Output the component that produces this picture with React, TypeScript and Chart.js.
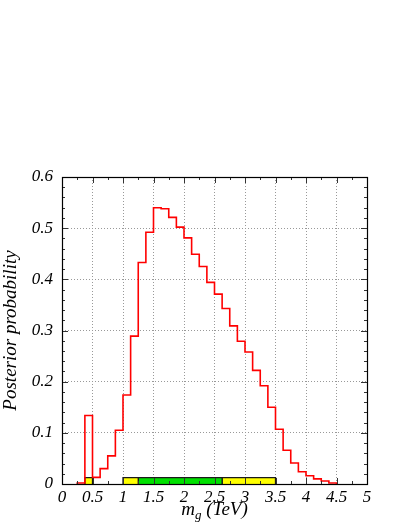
import React, { useEffect, useRef } from 'react';
import { Chart, registerables } from 'chart.js';

Chart.register(...registerables);

// Histogram: posterior probability per m_g bin (TeV)
const binStart = 0.25;
const binWidth = 0.125;
const posterior = [
  0.002, 0.134, 0.013, 0.030, 0.055, 0.105, 0.174, 0.289,
  0.433, 0.492, 0.540, 0.538, 0.521, 0.502, 0.481, 0.449,
  0.425, 0.394, 0.371, 0.343, 0.309, 0.279, 0.258, 0.222,
  0.192, 0.150, 0.107, 0.066, 0.041, 0.024, 0.016, 0.010,
  0.006, 0.002,
];

// Credible-interval bands drawn along the bottom
const bandLow = [0.375, 1.0, 1.25, 2.625];
const bandHigh = [0.5, 1.25, 2.625, 3.5];
const bandLevel = ['95%', '95%', '68%', '95%'];
const bandHeight = 0.0125;

// Axis ticks
const xTickValues = [0, 0.5, 1, 1.5, 2, 2.5, 3, 3.5, 4, 4.5, 5];
const xTickLabels = ['0', '0.5', '1', '1.5', '2', '2.5', '3', '3.5', '4', '4.5', '5'];
const yTickValues = [0, 0.1, 0.2, 0.3, 0.4, 0.5, 0.6];
const yTickLabels = ['0', '0.1', '0.2', '0.3', '0.4', '0.5', '0.6'];

const xTitleMain = 'm';
const xTitleSub = 'g';
const xTitleUnit = ' (TeV)';
const yTitle = 'Posterior probability';

const FONT = "'Liberation Serif', 'Times New Roman', Times, serif";

export default function App() {
  const ref = useRef<HTMLCanvasElement>(null);

  useEffect(() => {
    const canvas = ref.current;
    if (!canvas) return;

    const histPts: { x: number; y: number }[] = [{ x: binStart, y: 0 }];
    posterior.forEach((v, i) => histPts.push({ x: binStart + i * binWidth, y: v }));
    histPts.push({ x: binStart + posterior.length * binWidth, y: 0 });

    const bandSets = bandLow.map((lo, i) => ({
      type: 'line' as const,
      data: [
        { x: lo, y: 0 },
        { x: lo, y: bandHeight },
        { x: bandHigh[i], y: bandHeight },
        { x: bandHigh[i], y: 0 },
      ],
      borderColor: '#1a1a1a',
      borderWidth: 1.3,
      backgroundColor: bandLevel[i] === '68%' ? '#00e000' : '#ffff00',
      fill: 'origin',
      pointRadius: 0,
      tension: 0,
    }));

    const framePlugin = {
      id: 'frameAndTitles',
      afterDraw(chart: any) {
        const { ctx, chartArea: a, scales } = chart;
        const xs = scales.x;
        const ys = scales.y;
        ctx.save();
        // inner ticks
        ctx.strokeStyle = '#333';
        ctx.lineWidth = 1;
        ctx.beginPath();
        for (let k = 0; k <= 20; k++) {
          const px = Math.round(xs.getPixelForValue(k * 0.25)) + 0.5;
          const len = k % 2 === 0 ? 6 : 3;
          ctx.moveTo(px, a.bottom);
          ctx.lineTo(px, a.bottom - len);
          ctx.moveTo(px, a.top);
          ctx.lineTo(px, a.top + len);
        }
        for (let k = 0; k <= 30; k++) {
          const py = Math.round(ys.getPixelForValue(k * 0.02)) + 0.5;
          const len = k % 5 === 0 ? 6 : 3;
          ctx.moveTo(a.left, py);
          ctx.lineTo(a.left + len, py);
          ctx.moveTo(a.right, py);
          ctx.lineTo(a.right - len, py);
        }
        ctx.stroke();
        // frame
        ctx.strokeStyle = '#000';
        ctx.lineWidth = 1.2;
        ctx.strokeRect(Math.round(a.left) + 0.5, Math.round(a.top) + 0.5,
          Math.round(a.right - a.left), Math.round(a.bottom - a.top));

        // x title with subscript
        ctx.fillStyle = '#000';
        ctx.textBaseline = 'alphabetic';
        ctx.textAlign = 'left';
        const mainFont = `italic 19px ${FONT}`;
        const subFont = `italic 13px ${FONT}`;
        ctx.font = mainFont;
        const wM = ctx.measureText(xTitleMain).width;
        const wU = ctx.measureText(xTitleUnit).width;
        ctx.font = subFont;
        const wS = ctx.measureText(xTitleSub).width;
        const total = wM + wS + wU;
        let x0 = (a.left + a.right) / 2 - total / 2;
        const base = 515;
        ctx.font = mainFont;
        ctx.fillText(xTitleMain, x0, base);
        x0 += wM;
        ctx.font = subFont;
        ctx.fillText(xTitleSub, x0, base + 4);
        x0 += wS;
        ctx.font = mainFont;
        ctx.fillText(xTitleUnit, x0, base);

        // y title
        ctx.translate(11, (a.top + a.bottom) / 2);
        ctx.rotate(-Math.PI / 2);
        ctx.textAlign = 'center';
        ctx.textBaseline = 'middle';
        ctx.font = `italic 19px ${FONT}`;
        ctx.fillText(yTitle, 0, 0);
        ctx.restore();
      },
    };

    const tickFont = { family: FONT, size: 17, style: 'italic' as const };

    const chart = new Chart(canvas, {
      type: 'line',
      data: {
        datasets: [
          {
            data: histPts,
            borderColor: '#ff0000',
            borderWidth: 1.6,
            stepped: 'before',
            pointRadius: 0,
            fill: false,
          } as any,
          ...(bandSets as any[]),
        ],
      },
      options: {
        animation: false,
        responsive: false,
        devicePixelRatio: 1,
        parsing: false as any,
        layout: { padding: { top: 177, right: 40, left: 0, bottom: 0 } },
        plugins: { legend: { display: false }, tooltip: { enabled: false } },
        scales: {
          x: {
            type: 'linear',
            min: 0,
            max: 5,
            afterFit: (s: any) => { s.height = 43; },
            afterBuildTicks: (s: any) => { s.ticks = xTickValues.map((v) => ({ value: v })); },
            ticks: {
              autoSkip: false,
              maxRotation: 0,
              padding: 3,
              color: '#000',
              font: tickFont,
              callback: (_v: any, i: number) => xTickLabels[i],
            },
            grid: { color: '#999', lineWidth: 1, drawTicks: false },
            border: { display: false, dash: [1, 2] },
          },
          y: {
            type: 'linear',
            min: 0,
            max: 0.6,
            afterFit: (s: any) => { s.width = 62; },
            afterBuildTicks: (s: any) => { s.ticks = yTickValues.map((v) => ({ value: v })); },
            ticks: {
              autoSkip: false,
              padding: 9,
              color: '#000',
              font: tickFont,
              callback: (_v: any, i: number) => yTickLabels[i],
            },
            grid: { color: '#999', lineWidth: 1, drawTicks: false },
            border: { display: false, dash: [1, 2] },
          },
        },
      },
      plugins: [framePlugin],
    });

    return () => chart.destroy();
  }, []);

  return (
    <div style={{ position: 'absolute', left: 0, top: 0, width: 407, height: 527, background: '#fff' }}>
      <canvas ref={ref} width={407} height={527} style={{ display: 'block' }} />
    </div>
  );
}
